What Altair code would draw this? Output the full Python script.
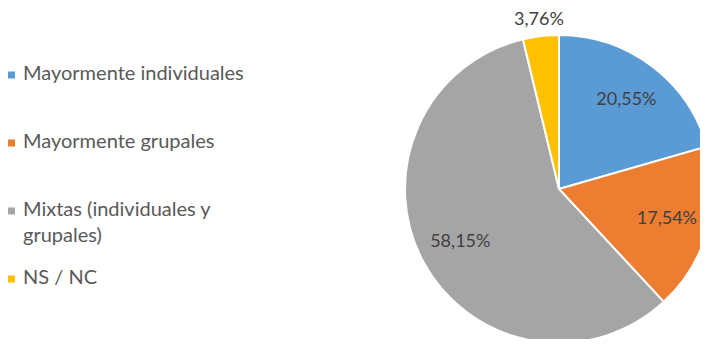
import altair as alt
import pandas as pd

categories = ["Mayormente individuales", "Mayormente grupales",
              "Mixtas (individuales y grupales)", "NS / NC"]
legend_labels = ["Mayormente individuales", "Mayormente grupales",
                 "Mixtas (individuales y\ngrupales)", "NS / NC"]
values = [20.55, 17.54, 58.15, 3.76]
colors = ["#5B9BD5", "#ED7D31", "#A5A5A5", "#FFC000"]

df = pd.DataFrame({
    "cat": categories,
    "legend": legend_labels,
    "value": values,
    "idx": list(range(len(categories))),
})

FONT = "Lato"
CX, CY, R = 551, 181, 154

color = alt.Color("cat:N", scale=alt.Scale(domain=categories, range=colors), legend=None)

base = alt.Chart(df).transform_calculate(
    label="replace(format(datum.value, '.2f'), '.', ',') + '%'"
)

pie = base.mark_arc(radius=R, stroke="white", strokeWidth=2).encode(
    theta=alt.Theta("value:Q", stack=True),
    order=alt.Order("idx:Q"),
    color=color,
    x=alt.value(CX), y=alt.value(CY),
)

inside = base.mark_text(radius=112, font=FONT, fontSize=18, color="#404040").encode(
    theta=alt.Theta("value:Q", stack=True),
    order=alt.Order("idx:Q"),
    text="label:N",
    x=alt.value(CX), y=alt.value(CY),
    opacity=alt.condition("datum.value >= 5", alt.value(1), alt.value(0)),
)

outside = base.mark_text(radius=170, font=FONT, fontSize=18, color="#404040").encode(
    theta=alt.Theta("value:Q", stack=True),
    order=alt.Order("idx:Q"),
    text="label:N",
    x=alt.value(CX), y=alt.value(CY),
    opacity=alt.condition("datum.value < 5", alt.value(1), alt.value(0)),
)

yscale = alt.Scale(domain=[0, 3], range=[67, 271])

leg_sq = alt.Chart(df).mark_square(size=49, opacity=1).encode(
    x=alt.value(3.5),
    y=alt.Y("idx:Q", scale=yscale, axis=None),
    color=color,
)

leg_txt = alt.Chart(df).mark_text(
    align="left", baseline="top", font=FONT, fontSize=20, color="#595959",
    lineBreak="\n", lineHeight=26, dy=-11,
).encode(
    x=alt.value(15),
    y=alt.Y("idx:Q", scale=yscale, axis=None),
    text="legend:N",
)

chart = alt.layer(pie, inside, outside, leg_sq, leg_txt).properties(
    width=692, height=331,
    autosize=alt.AutoSizeParams(type="none"),
    padding=0,
).configure_view(stroke=None)

chart.save("out.html", embed_options={"renderer": "svg", "actions": False})
